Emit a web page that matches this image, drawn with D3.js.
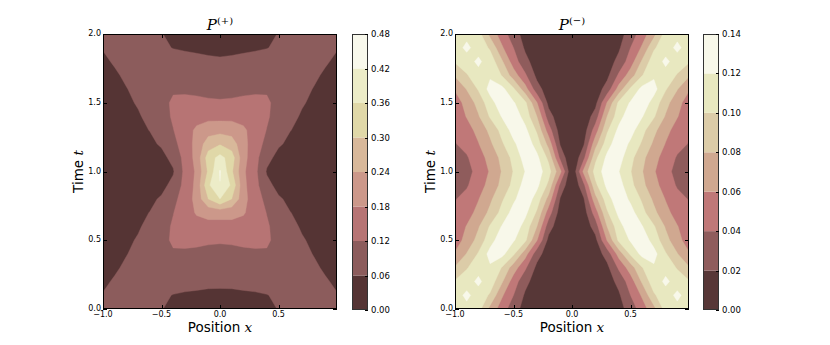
<!DOCTYPE html>
<html><head><meta charset="utf-8">
<script src="https://cdn.jsdelivr.net/npm/d3@7"></script>
<style>body{margin:0;background:#fff}svg{display:block}</style>
</head><body><svg id="c" width="830" height="345"></svg>
<script>
// ---------- data ----------
const xValues = [-1.0,-0.9,-0.8,-0.7,-0.6,-0.5,-0.4,-0.3,-0.2,-0.1,0.0,0.1,0.2,0.3,0.4,0.5,0.6,0.7,0.8,0.9,1.0];
const tValues = [0.0,0.1,0.2,0.3,0.4,0.5,0.6,0.7,0.8,0.9,1.0,1.1,1.2,1.3,1.4,1.5,1.6,1.7,1.8,1.9,2.0];
const plusLevels = [0.00,0.06,0.12,0.18,0.24,0.30,0.36,0.42,0.48];
const minusLevels = [0.00,0.02,0.04,0.06,0.08,0.10,0.12,0.14];
const plusColors = ["#553434","#8c5c5c","#b77474","#cc988a","#d8b89a","#e0d8a8","#ececc8","#f8f8ec"];
const minusColors = ["#573737","#8f5c5c","#c07878","#d0a890","#dccca8","#e8e8c0","#f8f8ea"];
const xTicks = [-1.0,-0.5,0.0,0.5];
const tTicks = [0.0,0.5,1.0,1.5,2.0];
const titles = ["(+)","(−)"];

// P(+) rows: one row per t (0.0 .. 2.0), columns x = -1.0 .. 1.0
const pPlus = [
[0.07,0.08,0.08,0.075,0.068,0.061,0.054,0.048,0.042,0.037,0.035,0.037,0.042,0.048,0.054,0.061,0.068,0.075,0.08,0.08,0.07],
[0.063,0.072,0.078,0.078,0.072,0.065,0.059,0.056,0.054,0.051,0.05,0.051,0.054,0.056,0.059,0.065,0.072,0.078,0.078,0.072,0.063],
[0.05,0.066,0.07,0.078,0.08,0.077,0.074,0.072,0.071,0.07,0.07,0.07,0.071,0.072,0.074,0.077,0.08,0.078,0.07,0.066,0.05],
[0.04,0.052,0.07,0.078,0.088,0.092,0.092,0.09,0.088,0.086,0.085,0.086,0.088,0.09,0.092,0.092,0.088,0.078,0.07,0.052,0.04],
[0.035,0.042,0.058,0.075,0.095,0.11,0.112,0.11,0.11,0.106,0.105,0.106,0.11,0.11,0.112,0.11,0.095,0.075,0.058,0.042,0.035],
[0.032,0.04,0.05,0.065,0.082,0.10,0.13,0.135,0.13,0.127,0.125,0.127,0.13,0.135,0.13,0.10,0.082,0.065,0.05,0.04,0.032],
[0.03,0.036,0.045,0.054,0.075,0.095,0.128,0.15,0.16,0.162,0.16,0.162,0.16,0.15,0.128,0.095,0.075,0.054,0.045,0.036,0.03],
[0.027,0.032,0.04,0.05,0.061,0.088,0.118,0.155,0.185,0.198,0.20,0.198,0.185,0.155,0.118,0.088,0.061,0.05,0.04,0.032,0.027],
[0.022,0.027,0.032,0.04,0.05,0.066,0.105,0.145,0.20,0.30,0.36,0.30,0.20,0.145,0.105,0.066,0.05,0.04,0.032,0.027,0.022],
[0.015,0.018,0.022,0.028,0.035,0.045,0.075,0.14,0.195,0.35,0.418,0.35,0.195,0.14,0.075,0.045,0.035,0.028,0.022,0.018,0.015],
[0.01,0.012,0.015,0.02,0.025,0.035,0.055,0.135,0.19,0.31,0.425,0.31,0.19,0.135,0.055,0.035,0.025,0.02,0.015,0.012,0.01],
[0.015,0.018,0.022,0.028,0.035,0.045,0.075,0.14,0.20,0.33,0.38,0.33,0.20,0.14,0.075,0.045,0.035,0.028,0.022,0.018,0.015],
[0.022,0.027,0.032,0.04,0.05,0.066,0.105,0.145,0.20,0.27,0.295,0.27,0.20,0.145,0.105,0.066,0.05,0.04,0.032,0.027,0.022],
[0.027,0.032,0.04,0.05,0.061,0.088,0.118,0.155,0.19,0.215,0.22,0.215,0.19,0.155,0.118,0.088,0.061,0.05,0.04,0.032,0.027],
[0.03,0.036,0.045,0.054,0.075,0.095,0.128,0.15,0.16,0.162,0.16,0.162,0.16,0.15,0.128,0.095,0.075,0.054,0.045,0.036,0.03],
[0.032,0.04,0.05,0.065,0.082,0.10,0.13,0.135,0.13,0.127,0.125,0.127,0.13,0.135,0.13,0.10,0.082,0.065,0.05,0.04,0.032],
[0.035,0.042,0.058,0.075,0.095,0.11,0.112,0.11,0.11,0.106,0.105,0.106,0.11,0.11,0.112,0.11,0.095,0.075,0.058,0.042,0.035],
[0.04,0.052,0.07,0.078,0.088,0.092,0.092,0.09,0.088,0.086,0.085,0.086,0.088,0.09,0.092,0.092,0.088,0.078,0.07,0.052,0.04],
[0.05,0.066,0.07,0.078,0.08,0.077,0.074,0.072,0.069,0.067,0.065,0.067,0.069,0.072,0.074,0.077,0.08,0.078,0.07,0.066,0.05],
[0.063,0.072,0.078,0.078,0.072,0.065,0.059,0.056,0.054,0.051,0.05,0.051,0.054,0.056,0.059,0.065,0.072,0.078,0.078,0.072,0.063],
[0.07,0.08,0.08,0.075,0.068,0.061,0.054,0.048,0.042,0.037,0.035,0.037,0.042,0.048,0.054,0.061,0.068,0.075,0.08,0.08,0.07]
];

// P(-) rows: one row per t (0.0 .. 2.0), columns x = -1.0 .. 1.0
const pMinus = [
[0.115,0.116,0.108,0.074,0.05,0.029,0.012,0.005,0.002,0.0005,0,0.0005,0.002,0.005,0.012,0.029,0.05,0.074,0.108,0.116,0.115],
[0.114,0.123,0.114,0.097,0.063,0.04,0.017,0.007,0.003,0.001,0,0.001,0.003,0.007,0.017,0.04,0.063,0.097,0.114,0.123,0.114],
[0.102,0.114,0.123,0.112,0.083,0.05,0.026,0.01,0.005,0.002,0,0.002,0.005,0.01,0.026,0.05,0.083,0.112,0.123,0.114,0.102],
[0.082,0.098,0.115,0.117,0.099,0.07,0.043,0.015,0.008,0.003,0,0.003,0.008,0.015,0.043,0.07,0.099,0.117,0.115,0.098,0.082],
[0.062,0.081,0.102,0.127,0.126,0.103,0.068,0.028,0.009,0.003,0,0.003,0.009,0.028,0.068,0.103,0.126,0.127,0.102,0.081,0.062],
[0.05,0.067,0.087,0.112,0.132,0.122,0.104,0.061,0.014,0.004,0,0.004,0.014,0.061,0.104,0.122,0.132,0.112,0.087,0.067,0.05],
[0.047,0.061,0.078,0.102,0.121,0.133,0.112,0.08,0.029,0.006,0,0.006,0.029,0.08,0.112,0.133,0.121,0.102,0.078,0.061,0.047],
[0.043,0.052,0.066,0.085,0.106,0.128,0.125,0.097,0.05,0.01,0,0.01,0.05,0.097,0.125,0.128,0.106,0.085,0.066,0.052,0.043],
[0.039,0.046,0.059,0.076,0.097,0.116,0.134,0.111,0.073,0.018,0,0.018,0.073,0.111,0.134,0.116,0.097,0.076,0.059,0.046,0.039],
[0.031,0.038,0.051,0.067,0.085,0.106,0.128,0.125,0.095,0.035,0,0.035,0.095,0.125,0.128,0.106,0.085,0.067,0.051,0.038,0.031],
[0.025,0.034,0.046,0.062,0.081,0.101,0.1205,0.131,0.108,0.065,0,0.065,0.108,0.131,0.1205,0.101,0.081,0.062,0.046,0.034,0.025],
[0.031,0.038,0.051,0.067,0.085,0.106,0.128,0.125,0.095,0.035,0,0.035,0.095,0.125,0.128,0.106,0.085,0.067,0.051,0.038,0.031],
[0.039,0.046,0.059,0.076,0.097,0.116,0.134,0.111,0.073,0.018,0,0.018,0.073,0.111,0.134,0.116,0.097,0.076,0.059,0.046,0.039],
[0.043,0.052,0.066,0.085,0.106,0.128,0.125,0.097,0.05,0.01,0,0.01,0.05,0.097,0.125,0.128,0.106,0.085,0.066,0.052,0.043],
[0.047,0.061,0.078,0.102,0.121,0.133,0.112,0.08,0.029,0.006,0,0.006,0.029,0.08,0.112,0.133,0.121,0.102,0.078,0.061,0.047],
[0.05,0.067,0.087,0.112,0.132,0.122,0.104,0.061,0.014,0.004,0,0.004,0.014,0.061,0.104,0.122,0.132,0.112,0.087,0.067,0.05],
[0.062,0.081,0.102,0.127,0.126,0.103,0.068,0.028,0.009,0.003,0,0.003,0.009,0.028,0.068,0.103,0.126,0.127,0.102,0.081,0.062],
[0.082,0.098,0.115,0.117,0.099,0.07,0.043,0.015,0.008,0.003,0,0.003,0.008,0.015,0.043,0.07,0.099,0.117,0.115,0.098,0.082],
[0.102,0.114,0.123,0.112,0.083,0.05,0.026,0.01,0.005,0.002,0,0.002,0.005,0.01,0.026,0.05,0.083,0.112,0.123,0.114,0.102],
[0.114,0.123,0.114,0.097,0.063,0.04,0.017,0.007,0.003,0.001,0,0.001,0.003,0.007,0.017,0.04,0.063,0.097,0.114,0.123,0.114],
[0.115,0.116,0.108,0.074,0.05,0.029,0.012,0.005,0.002,0.0005,0,0.0005,0.002,0.005,0.012,0.029,0.05,0.074,0.108,0.116,0.115]
];

// ---------- drawing ----------
const svg = d3.select("#c");
const panels = [
  {x0:103, x1:337, cbx:352, grid:pPlus, levels:plusLevels, colors:plusColors, title:titles[0], id:"p"},
  {x0:455, x1:689, cbx:703, grid:pMinus, levels:minusLevels, colors:minusColors, title:titles[1], id:"m"}
];
const yTop = 34, yBot = 309, cbW = 16;
const tickFont = "DejaVu Sans, sans-serif";
const fmt1 = d3.format(".1f"), fmt2 = d3.format(".2f");

const defs = svg.append("defs");

panels.forEach(P => {
  const xs = d3.scaleLinear().domain([-1, 1]).range([P.x0, P.x1]);
  const ys = d3.scaleLinear().domain([0, 2]).range([yBot, yTop]);
  const nx = xValues.length, ny = tValues.length;
  const dx = (xValues[nx-1]-xValues[0])/(nx-1), dt = (tValues[ny-1]-tValues[0])/(ny-1);
  const flat = [];
  P.grid.forEach(row => row.forEach(v => flat.push(v)));

  defs.append("clipPath").attr("id","clip"+P.id)
    .append("rect").attr("x",P.x0).attr("y",yTop).attr("width",P.x1-P.x0).attr("height",yBot-yTop);

  const proj = d3.geoTransform({point: function(gx, gy){
    this.stream.point(xs(xValues[0] + (gx-0.5)*dx), ys(tValues[0] + (gy-0.5)*dt));
  }});
  const path = d3.geoPath(proj);
  const contours = d3.contours().size([nx, ny]).thresholds(P.levels.slice(0, -1))(flat);

  const g = svg.append("g").attr("clip-path","url(#clip"+P.id+")");
  g.append("rect").attr("x",P.x0).attr("y",yTop).attr("width",P.x1-P.x0).attr("height",yBot-yTop)
    .attr("fill",P.colors[0]);
  g.selectAll("path").data(contours).join("path")
    .attr("d", path)
    .attr("fill", (d,i) => P.colors[i])
    .attr("stroke", (d,i) => P.colors[i]).attr("stroke-width",0.4);

  // frame
  svg.append("rect").attr("x",P.x0+0.5).attr("y",yTop+0.5).attr("width",P.x1-P.x0-1).attr("height",yBot-yTop-1)
    .attr("fill","none").attr("stroke","#000").attr("stroke-width",1);

  // ticks (inward, both sides)
  const tk = svg.append("g").attr("stroke","#000").attr("stroke-width",1);
  xTicks.forEach(v => {
    const x = Math.round(xs(v))+0.5;
    tk.append("line").attr("x1",x).attr("x2",x).attr("y1",yBot).attr("y2",yBot-4);
    tk.append("line").attr("x1",x).attr("x2",x).attr("y1",yTop).attr("y2",yTop+4);
  });
  tTicks.forEach(v => {
    const y = Math.round(ys(v))+0.5;
    tk.append("line").attr("x1",P.x0).attr("x2",P.x0+4).attr("y1",y).attr("y2",y);
    tk.append("line").attr("x1",P.x1).attr("x2",P.x1-4).attr("y1",y).attr("y2",y);
  });
  const lab = svg.append("g").attr("font-family",tickFont).attr("font-size","8px").attr("fill","#000");
  xTicks.forEach(v => {
    lab.append("text").attr("x",xs(v)).attr("y",yBot+8).attr("text-anchor","middle").text(fmt1(v));
  });
  tTicks.forEach(v => {
    lab.append("text").attr("x",P.x0-2).attr("y",ys(v)+2).attr("text-anchor","end").text(fmt1(v));
  });

  // axis labels
  const cx = (P.x0+P.x1)/2;
  const xl = svg.append("text").attr("x",cx).attr("y",332).attr("text-anchor","middle")
    .attr("font-family",tickFont).attr("font-size","13.5px");
  xl.append("tspan").text("Position ");
  xl.append("tspan").attr("font-family","DejaVu Serif, serif").attr("font-style","italic").text("x");
  const yl = svg.append("text").attr("transform","translate("+(P.x0-20)+","+((yTop+yBot)/2)+") rotate(-90)")
    .attr("text-anchor","middle").attr("font-family",tickFont).attr("font-size","13.5px");
  yl.append("tspan").text("Time ");
  yl.append("tspan").attr("font-family","DejaVu Serif, serif").attr("font-style","italic").text("t");

  // title
  const tt = svg.append("text").attr("x",cx).attr("y",30).attr("text-anchor","middle")
    .attr("font-family","DejaVu Serif, serif").attr("font-size","15px");
  tt.append("tspan").attr("font-style","italic").text("P");
  tt.append("tspan").attr("font-size","10px").attr("dy",-6).text(P.title);

  // colorbar
  const cs = d3.scaleLinear().domain([P.levels[0], P.levels[P.levels.length-1]]).range([yBot+1, yTop]);
  const cb = svg.append("g");
  P.colors.forEach((c,i) => {
    cb.append("rect").attr("x",P.cbx).attr("width",cbW)
      .attr("y",cs(P.levels[i+1])).attr("height",cs(P.levels[i])-cs(P.levels[i+1]))
      .attr("fill",c);
  });
  cb.append("rect").attr("x",P.cbx+0.5).attr("y",yTop+0.5).attr("width",cbW-1).attr("height",cs(P.levels[0])-yTop-1)
    .attr("fill","none").attr("stroke","#333").attr("stroke-width",1);
  P.levels.forEach(v => {
    const y = Math.round(cs(v))+0.5;
    cb.append("line").attr("x1",P.cbx+cbW-3).attr("x2",P.cbx+cbW).attr("y1",y).attr("y2",y)
      .attr("stroke","#000").attr("stroke-width",1);
    cb.append("text").attr("x",P.cbx+cbW+3).attr("y",cs(v)+3)
      .attr("font-family",tickFont).attr("font-size","8.5px").text(fmt2(v));
  });
});
</script>
</body></html>
